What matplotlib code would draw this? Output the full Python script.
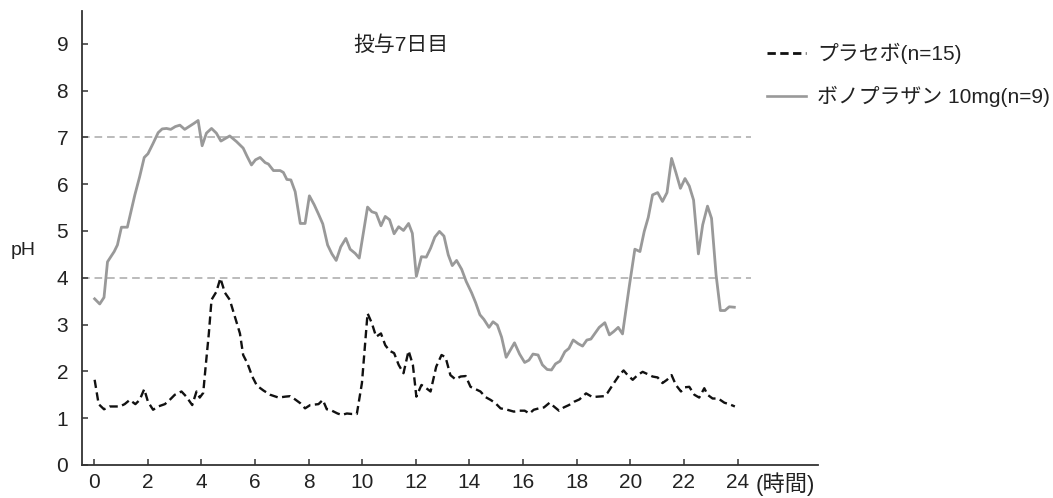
import matplotlib
matplotlib.use("Agg")
import matplotlib.pyplot as plt
from matplotlib.lines import Line2D

plt.rcParams['font.family'] = ['Liberation Sans', 'Noto Sans CJK JP', 'DejaVu Sans']

# ---- data (hours, pH) ----
vono_t = [0.02, 0.21, 0.37, 0.50, 0.75, 0.87, 1.02, 1.24, 1.39, 1.52, 1.70, 1.87, 2.01, 2.20,
          2.39, 2.54, 2.70, 2.86, 3.03, 3.20, 3.38, 3.57, 3.73, 3.88, 4.03, 4.19, 4.38, 4.56,
          4.73, 5.06, 5.31, 5.56, 5.71, 5.87, 6.02, 6.19, 6.38, 6.50, 6.69, 6.94, 7.06, 7.19,
          7.34, 7.50, 7.69, 7.87, 8.03, 8.21, 8.37, 8.53, 8.71, 8.87, 9.03, 9.20, 9.39, 9.55,
          9.74, 9.89, 10.20, 10.36, 10.52, 10.70, 10.86, 11.02, 11.19, 11.36, 11.54, 11.73,
          11.87, 12.02, 12.21, 12.39, 12.55, 12.71, 12.88, 13.05, 13.21, 13.36, 13.52, 13.71,
          13.88, 14.08, 14.23, 14.39, 14.54, 14.73, 14.88, 15.04, 15.20, 15.37, 15.53, 15.68,
          15.87, 16.06, 16.22, 16.37, 16.56, 16.72, 16.90, 17.06, 17.21, 17.38, 17.56, 17.71,
          17.87, 18.06, 18.22, 18.38, 18.53, 18.68, 18.84, 19.05, 19.22, 19.38, 19.55, 19.71,
          19.96, 20.17, 20.36, 20.52, 20.67, 20.83, 21.02, 21.20, 21.37, 21.54, 21.70, 21.87,
          22.04, 22.20, 22.36, 22.54, 22.70, 22.88, 23.03, 23.20, 23.36, 23.53, 23.69, 23.88]
vono_ph = [3.55, 3.44, 3.58, 4.34, 4.56, 4.70, 5.08, 5.08, 5.45, 5.77, 6.16, 6.57, 6.65, 6.87,
           7.10, 7.18, 7.19, 7.17, 7.23, 7.26, 7.17, 7.24, 7.30, 7.36, 6.82, 7.09, 7.19, 7.09,
           6.92, 7.03, 6.91, 6.77, 6.59, 6.41, 6.52, 6.57, 6.46, 6.43, 6.29, 6.29, 6.25, 6.10,
           6.09, 5.84, 5.16, 5.16, 5.75, 5.56, 5.36, 5.15, 4.70, 4.51, 4.37, 4.66, 4.84, 4.61,
           4.52, 4.42, 5.51, 5.41, 5.38, 5.11, 5.31, 5.24, 4.94, 5.09, 5.01, 5.16,
           4.95, 4.03, 4.45, 4.44, 4.63, 4.87, 4.99, 4.89, 4.49, 4.26, 4.37, 4.18,
           3.92, 3.68, 3.47, 3.21, 3.11, 2.94, 3.06, 2.99, 2.73, 2.30, 2.46, 2.61,
           2.37, 2.19, 2.24, 2.37, 2.35, 2.14, 2.04, 2.03, 2.16, 2.22, 2.42, 2.49,
           2.67, 2.59, 2.54, 2.67, 2.69, 2.81, 2.94, 3.04, 2.78, 2.85, 2.94, 2.80,
           3.81, 4.61, 4.56, 4.99, 5.29, 5.77, 5.82, 5.63, 5.82, 6.55, 6.25, 5.91,
           6.12, 5.96, 5.66, 4.51, 5.13, 5.53, 5.27, 4.06, 3.30, 3.30, 3.38, 3.37]

plac_t = [0.02, 0.17, 0.37, 0.58, 0.96, 1.14, 1.33, 1.54, 1.70, 1.87, 2.01, 2.20, 2.39, 2.64,
          2.82, 3.01, 3.26, 3.44, 3.66, 3.82, 3.94, 4.07, 4.16, 4.28, 4.38, 4.56, 4.71, 4.88,
          5.06, 5.25, 5.44, 5.56, 5.72, 5.90, 6.06, 6.13, 6.32, 6.57, 6.88, 7.13, 7.31, 7.50,
          7.69, 7.87, 8.06, 8.37, 8.53, 8.68, 8.87, 9.08, 9.24, 9.43, 9.61, 9.80, 9.99, 10.09,
          10.20, 10.36, 10.52, 10.70, 10.86, 11.02, 11.19, 11.36, 11.54, 11.73, 11.89, 12.02,
          12.21, 12.39, 12.55, 12.76, 12.96, 13.11, 13.29, 13.48, 13.67, 13.86, 14.04, 14.23,
          14.41, 14.60, 14.79, 14.97, 15.16, 15.41, 15.66, 15.87, 16.06, 16.24, 16.40, 16.59,
          16.78, 16.99, 17.15, 17.34, 17.52, 17.71, 17.90, 18.10, 18.35, 18.59, 18.78, 19.03,
          19.15, 19.40, 19.59, 19.75, 19.90, 20.09, 20.27, 20.46, 20.65, 20.83, 21.02, 21.20,
          21.37, 21.54, 21.70, 21.89, 22.04, 22.20, 22.39, 22.57, 22.76, 22.88, 23.07, 23.28,
          23.51, 23.69, 23.90]
plac_ph = [1.82, 1.30, 1.19, 1.25, 1.25, 1.30, 1.39, 1.30, 1.39, 1.62, 1.35, 1.18, 1.25, 1.30,
           1.39, 1.50, 1.57, 1.46, 1.28, 1.57, 1.44, 1.54, 2.10, 2.81, 3.53, 3.70, 3.99, 3.68,
           3.53, 3.17, 2.81, 2.35, 2.17, 1.89, 1.71, 1.67, 1.59, 1.50, 1.44, 1.46, 1.47, 1.40,
           1.32, 1.21, 1.28, 1.30, 1.39, 1.19, 1.16, 1.10, 1.07, 1.10, 1.09, 1.09, 1.75, 2.46,
           3.24, 3.03, 2.74, 2.81, 2.56, 2.44, 2.39, 2.14, 1.96, 2.44, 2.14, 1.46,
           1.71, 1.64, 1.57, 2.10, 2.35, 2.30, 1.92, 1.83, 1.89, 1.90, 1.67, 1.62,
           1.57, 1.45, 1.39, 1.32, 1.21, 1.18, 1.14, 1.16, 1.16, 1.10, 1.18, 1.21,
           1.23, 1.33, 1.25, 1.16, 1.23, 1.28, 1.35, 1.40, 1.53, 1.45, 1.46, 1.47,
           1.54, 1.76, 1.92, 2.02, 1.92, 1.82, 1.92, 1.99, 1.94, 1.89, 1.87, 1.75,
           1.82, 1.92, 1.71, 1.57, 1.66, 1.67, 1.50, 1.44, 1.64, 1.50, 1.42, 1.42,
           1.33, 1.30, 1.25]

x_ticks = list(range(0, 25, 2))
y_ticks = list(range(0, 10))
ref_levels = [4, 7]
title_text = "投与7日目"
label_placebo = "プラセボ(n=15)"
label_vono = "ボノプラザン 10mg(n=9)"

# ---- figure ----
fig = plt.figure(figsize=(10.53, 4.98), dpi=100)
ax = fig.add_axes([0.0779, 0.0663, 0.6989, 0.9117])

ax.set_xlim(-0.45, 27.0)
ax.set_ylim(0, 9.7)

for lv in ref_levels:
    ax.plot([-0.45, 24.5], [lv, lv], color='#a8a8a8', lw=1.1, dashes=(5, 3.2), zorder=1)

ax.plot(vono_t, vono_ph, color='#999999', lw=2.0, zorder=2)
ax.plot(plac_t, plac_ph, color='#111111', lw=1.7, dashes=(3.5, 1.9), zorder=3)

for s in ['top', 'right']:
    ax.spines[s].set_visible(False)
for s in ['left', 'bottom']:
    ax.spines[s].set_color('#333333')
    ax.spines[s].set_linewidth(1.3)

ax.set_xticks(x_ticks)
ax.set_yticks(y_ticks)
ax.tick_params(direction='in', length=4, width=1.1, color='#333333',
               labelsize=15, labelcolor='#222222')
ax.tick_params(axis='x', pad=6)
ax.tick_params(axis='y', pad=10)

ax.text(24.66, -0.41, "(時間)", fontsize=16, color='#222222', ha='left', va='center')
fig.text(0.010, 0.497, "pH", fontsize=14, color='#222222', ha='left', va='center')
ax.text(9.66, 8.97, title_text, fontsize=15, color='#222222', ha='left', va='center')

handles = [Line2D([0], [0], color='#111111', lw=2.0, dashes=(3.0, 1.6)),
           Line2D([0], [0], color='#999999', lw=1.9)]
fig.legend(handles, [label_placebo, label_vono], loc='upper left',
           bbox_to_anchor=(0.7106, 0.951), frameon=False, fontsize=15,
           handlelength=1.85, handletextpad=0.55, labelspacing=1.05,
           labelcolor='#222222')

fig.savefig("out.png", dpi=100)
